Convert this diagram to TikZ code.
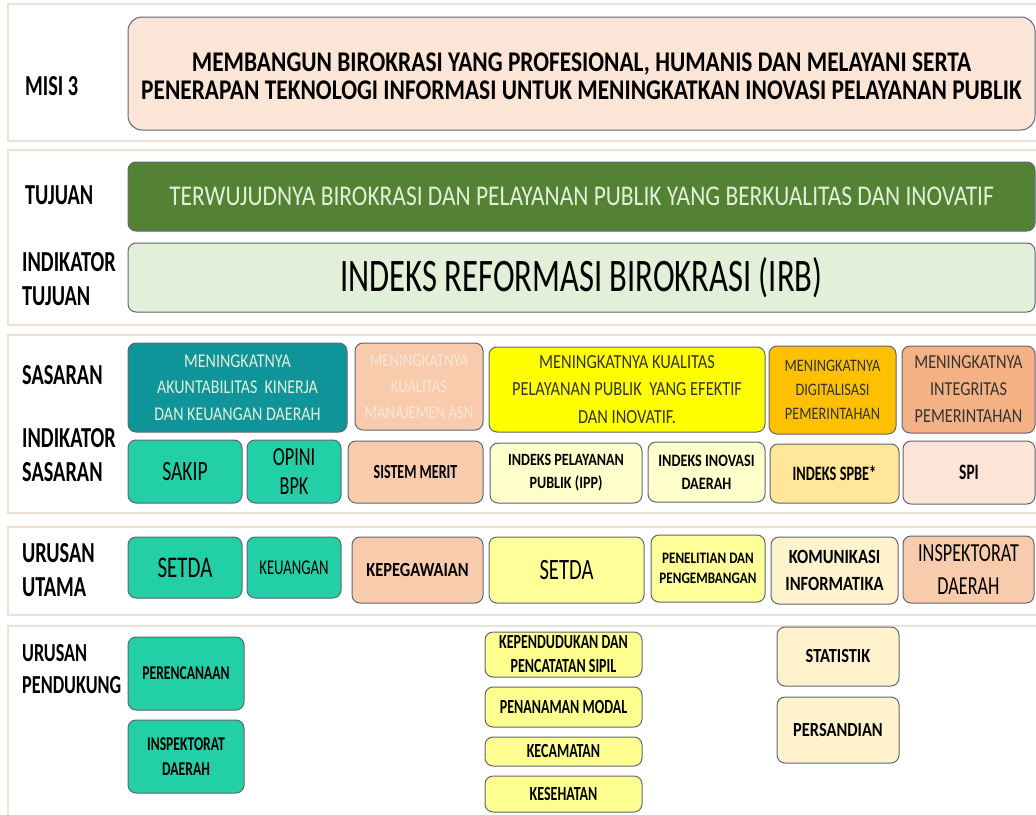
\documentclass[tikz,border=0pt]{standalone}
\usepackage{fontspec}
\setmainfont{Carlito}[FakeStretch=0.7]
\newfontfamily\lebar{Carlito}[FakeStretch=0.82]

\definecolor{garis}{HTML}{5E6673}
\definecolor{pitagaris}{HTML}{ECE2D6}
\definecolor{misi}{HTML}{FBE5D6}
\definecolor{hijautua}{HTML}{548235}
\definecolor{hijaumuda}{HTML}{E2F0D9}
\definecolor{tosca}{HTML}{0E9499}
\definecolor{toscamuda}{HTML}{22CFA6}
\definecolor{peach}{HTML}{F8CBAD}
\definecolor{peachtua}{HTML}{F4B183}
\definecolor{peachmuda}{HTML}{FCE4D6}
\definecolor{kuning}{HTML}{FFFF00}
\definecolor{kuningmuda}{HTML}{FFFFCC}
\definecolor{kuningsedang}{HTML}{FFFF99}
\definecolor{kuningpd}{HTML}{FFFF8F}
\definecolor{oranye}{HTML}{FFC000}
\definecolor{emas}{HTML}{FFE699}
\definecolor{krem}{HTML}{FFF2CC}

\tikzset{
  pita/.style={draw=pitagaris, line width=1.5pt},
  kotak/.style={draw=garis, line width=1pt, rounded corners=8pt, inner sep=0pt, align=center},
  judul/.style={anchor=west, align=left, inner sep=0pt, font=\bfseries\fontsize{29}{34}\selectfont},
  tebal/.style={font=\bfseries\fontsize{#1}{24}\selectfont},
  lebartebal/.style={font=\lebar\bfseries\fontsize{#1}{24}\selectfont},
}

\begin{document}
\begin{tikzpicture}[x=1pt,y=-1pt]
  \useasboundingbox (0,0) rectangle (1036,814);
  \fill[white] (0,0) rectangle (1036,814);
  % pita latar tiap bagian
  \draw[pita] (8,4) rectangle (1045,141);
  \draw[pita] (8,150) rectangle (1045,325);
  \draw[pita] (8,335) rectangle (1045,513);
  \draw[pita] (8,527) rectangle (1045,615);
  \draw[pita] (8,626) rectangle (1045,830);

  % judul kiri
  \node[judul] (jmisi) at (25,86) {MISI 3};
  \node[judul] (jtujuan) at (25,195) {TUJUAN};
  \node[judul] (jindtujuan) at (22,279) {INDIKATOR\\TUJUAN};
  \node[judul] (jsasaran) at (22,375) {SASARAN};
  \node[judul] (jindsasaran) at (22,455) {INDIKATOR\\SASARAN};
  \node[judul] (jutama) at (22,570) {URUSAN\\UTAMA};
  \node[judul, font=\bfseries\fontsize{26}{32}\selectfont] (jpendukung) at (22,669) {URUSAN\\PENDUKUNG};

  % misi, tujuan, indikator tujuan
  \node[kotak, fill=misi, rounded corners=14pt, minimum width=907pt, minimum height=113pt] (misi) at (581.5,73.5) {};
  \node[align=center, inner sep=0pt, font=\lebar\bfseries\fontsize{28.5}{27.5}\selectfont] (misiteks)
    at ([yshift=-3pt]misi.center)
    {MEMBANGUN BIROKRASI YANG PROFESIONAL, HUMANIS DAN MELAYANI SERTA\\
     PENERAPAN TEKNOLOGI INFORMASI UNTUK MENINGKATKAN INOVASI PELAYANAN PUBLIK};
  \node[kotak, fill=hijautua, text=hijaumuda, minimum width=907pt, minimum height=69pt,
    font=\lebar\fontsize{28.6}{30}\selectfont] (tujuan) at (581.5,196.5)
    {TERWUJUDNYA BIROKRASI DAN PELAYANAN PUBLIK YANG BERKUALITAS DAN INOVATIF};
  \node[kotak, fill=hijaumuda, minimum width=907pt, minimum height=69pt,
    font=\fontsize{46.6}{50}\selectfont] (irb) at (581.5,277.5)
    {INDEKS REFORMASI BIROKRASI (IRB)};

  % sasaran
  \node[kotak, fill=tosca, text=hijaumuda, minimum width=219pt, minimum height=89pt,
    font=\lebar\fontsize{19.5}{26.5}\selectfont] (akuntabilitas) at (237.5,387.5)
    {MENINGKATNYA\\AKUNTABILITAS\ \ KINERJA\\DAN KEUANGAN DAERAH};
  \node[kotak, fill=peach, text=misi, minimum width=128pt, minimum height=87pt,
    font=\lebar\fontsize{18}{26}\selectfont] (asn) at (419,386.5)
    {MENINGKATNYA\\KUALITAS\\MANAJEMEN ASN};
  \node[kotak, fill=kuning, text=black!80, minimum width=276pt, minimum height=85pt,
    font=\lebar\fontsize{20}{27.5}\selectfont] (pelayanan) at (627,389.5)
    {MENINGKATNYA KUALITAS\\PELAYANAN PUBLIK\ \ YANG EFEKTIF\\DAN INOVATIF.};
  \node[kotak, fill=oranye, text=black!80, minimum width=127pt, minimum height=88pt,
    font=\lebar\fontsize{17.5}{24}\selectfont] (digital) at (832.5,390)
    {MENINGKATNYA\\DIGITALISASI\\PEMERINTAHAN};
  \node[kotak, fill=peachtua, text=black!80, minimum width=133pt, minimum height=87pt,
    font=\lebar\fontsize{19.8}{27}\selectfont] (integritas) at (968.5,389.5)
    {MENINGKATNYA\\INTEGRITAS\\PEMERINTAHAN};

  % indikator sasaran
  \node[kotak, fill=toscamuda, minimum width=114pt, minimum height=63pt,
    font=\fontsize{28}{34}\selectfont] (sakip) at (185,471.5) {SAKIP};
  \node[kotak, fill=toscamuda, minimum width=94pt, minimum height=63pt,
    font=\fontsize{26}{29}\selectfont] (opini) at (294,471.5) {OPINI\\BPK};
  \node[kotak, fill=peach, minimum width=135pt, minimum height=62pt, tebal=20] (merit) at (415.5,472) {SISTEM MERIT};
  \node[kotak, fill=kuningmuda, minimum width=152pt, minimum height=60pt,
    font=\lebar\bfseries\fontsize{17.2}{23}\selectfont] (ipp) at (566,473) {INDEKS PELAYANAN\\PUBLIK (IPP)};
  \node[kotak, fill=kuningmuda, minimum width=117pt, minimum height=60pt,
    font=\lebar\bfseries\fontsize{17.4}{23}\selectfont] (inovasi) at (706.5,472) {INDEKS INOVASI\\DAERAH};
  \node[kotak, fill=emas, minimum width=129pt, minimum height=59pt, tebal=20.5] (spbe) at (834.5,473.5) {INDEKS SPBE*};
  \node[kotak, fill=peachmuda, minimum width=132pt, minimum height=63pt, tebal=22] (spi) at (969,472.5) {SPI};

  % urusan utama
  \node[kotak, fill=toscamuda, minimum width=114pt, minimum height=61pt,
    font=\fontsize{30}{30}\selectfont] (setda) at (185,567.5) {SETDA};
  \node[kotak, fill=toscamuda, minimum width=94pt, minimum height=61pt,
    font=\fontsize{21}{22}\selectfont] (keuangan) at (294,567.5) {KEUANGAN};
  \node[kotak, fill=peach, minimum width=131pt, minimum height=66pt, lebartebal=20] (kepegawaian) at (417.5,570) {KEPEGAWAIAN};
  \node[kotak, fill=kuningsedang, minimum width=155pt, minimum height=66pt,
    font=\fontsize{29.5}{30}\selectfont] (setdadua) at (566.5,570) {SETDA};
  \node[kotak, fill=kuningsedang, minimum width=114pt, minimum height=67pt,
    font=\lebar\bfseries\fontsize{16}{20}\selectfont] (penelitian) at (708,568.5) {PENELITIAN DAN\\PENGEMBANGAN};
  \node[kotak, fill=krem, minimum width=127pt, minimum height=67pt,
    font=\lebar\bfseries\fontsize{20.2}{27}\selectfont] (komunikasi) at (834.5,570.5) {KOMUNIKASI\\INFORMATIKA};
  \node[kotak, fill=peach, minimum width=131pt, minimum height=67pt,
    font=\fontsize{26}{33}\selectfont] (inspektorat) at (968.5,569.5) {INSPEKTORAT\\DAERAH};

  % urusan pendukung
  \node[kotak, fill=toscamuda, minimum width=116pt, minimum height=73pt, tebal=19.5] (perencanaan) at (186,673.5) {PERENCANAAN};
  \node[kotak, fill=toscamuda, minimum width=116pt, minimum height=73pt,
    font=\bfseries\fontsize{19.5}{25}\selectfont] (inspektoratdua) at (186,756.5) {INSPEKTORAT\\DAERAH};
  \node[kotak, fill=kuningpd, minimum width=157pt, minimum height=45pt,
    font=\bfseries\fontsize{20}{24}\selectfont] (kependudukan) at (563.5,654.5) {KEPENDUDUKAN DAN\\PENCATATAN SIPIL};
  \node[kotak, fill=kuningpd, minimum width=157pt, minimum height=40pt, tebal=20] (penanaman) at (563.5,707) {PENANAMAN MODAL};
  \node[kotak, fill=kuningpd, minimum width=157pt, minimum height=29pt, tebal=20] (kecamatan) at (563.5,751.5) {KECAMATAN};
  \node[kotak, fill=kuningpd, minimum width=157pt, minimum height=36pt, tebal=20] (kesehatan) at (563.5,794) {KESEHATAN};
  \node[kotak, fill=krem, minimum width=122pt, minimum height=59pt, lebartebal=20] (statistik) at (838,656.5) {STATISTIK};
  \node[kotak, fill=krem, minimum width=122pt, minimum height=66pt, lebartebal=20] (persandian) at (838,730) {PERSANDIAN};
\end{tikzpicture}
\end{document}
